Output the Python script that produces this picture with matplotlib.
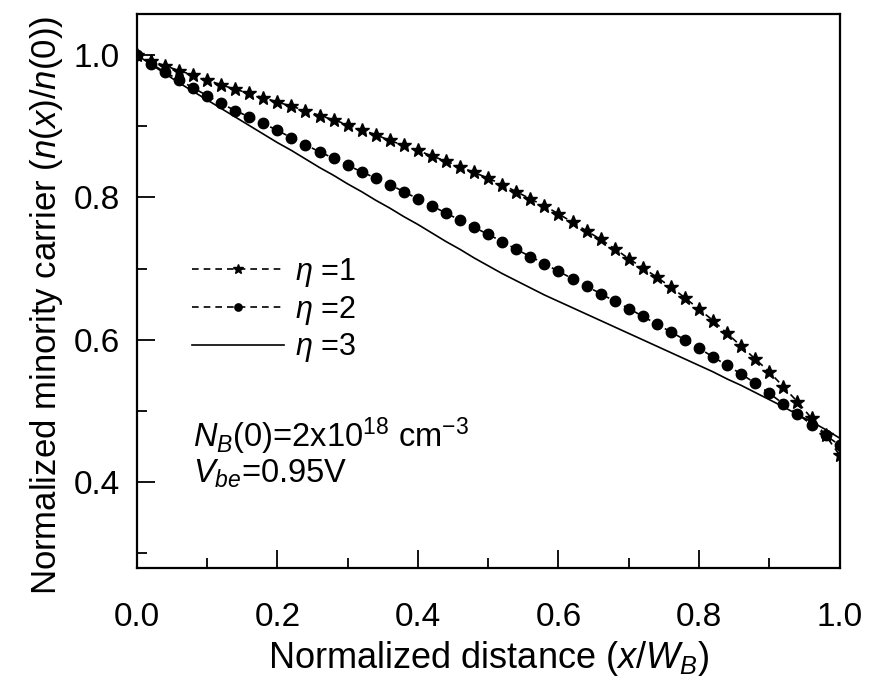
import numpy as np
import matplotlib
matplotlib.use("Agg")
import matplotlib.pyplot as plt

plt.rcParams['font.family'] = ['Liberation Sans', 'DejaVu Sans']
plt.rcParams['mathtext.fontset'] = 'custom'
plt.rcParams['mathtext.rm'] = 'Liberation Sans'
plt.rcParams['mathtext.it'] = 'Liberation Sans:italic'
plt.rcParams['mathtext.bf'] = 'Liberation Sans:bold'

# normalized distance x/W_B, sampled every 0.02
x = [round(0.02 * i, 2) for i in range(51)]

eta1 = [1.000, 0.992, 0.985, 0.978, 0.972, 0.965, 0.958, 0.952, 0.946, 0.940,
        0.934, 0.928, 0.922, 0.915, 0.909, 0.902, 0.895, 0.888, 0.880, 0.873,
        0.866, 0.858, 0.851, 0.843, 0.835, 0.827, 0.818, 0.808, 0.798, 0.788,
        0.777, 0.765, 0.753, 0.741, 0.728, 0.714, 0.701, 0.688, 0.674, 0.659,
        0.643, 0.627, 0.609, 0.591, 0.573, 0.555, 0.534, 0.513, 0.490, 0.466,
        0.438]
eta2 = [1.000, 0.988, 0.976, 0.965, 0.954, 0.943, 0.932, 0.922, 0.913, 0.904,
        0.894, 0.884, 0.874, 0.864, 0.855, 0.845, 0.836, 0.827, 0.818, 0.808,
        0.798, 0.788, 0.778, 0.768, 0.758, 0.748, 0.738, 0.727, 0.717, 0.707,
        0.696, 0.686, 0.675, 0.665, 0.654, 0.644, 0.633, 0.622, 0.611, 0.600,
        0.588, 0.576, 0.564, 0.552, 0.539, 0.525, 0.510, 0.496, 0.481, 0.466,
        0.452]
eta3 = [1.000, 0.987, 0.974, 0.961, 0.949, 0.937, 0.925, 0.913, 0.901, 0.889,
        0.877, 0.866, 0.854, 0.842, 0.831, 0.819, 0.808, 0.796, 0.785, 0.773,
        0.762, 0.750, 0.738, 0.727, 0.715, 0.704, 0.693, 0.683, 0.673, 0.663,
        0.654, 0.645, 0.636, 0.627, 0.618, 0.609, 0.600, 0.591, 0.582, 0.573,
        0.564, 0.555, 0.545, 0.536, 0.526, 0.516, 0.506, 0.495, 0.485, 0.474,
        0.462]

fig = plt.figure(figsize=(8.71, 6.84), dpi=100)
ax = fig.add_axes([0.157, 0.170, 0.807, 0.810])

ax.plot(x, eta1, color='black', linestyle=(0, (4, 3)), linewidth=1.2,
        marker='*', markersize=10, label=r'$\eta$ =1')
ax.plot(x, eta2, color='black', linestyle=(0, (4, 3)), linewidth=1.2,
        marker='o', markersize=7.5, label=r'$\eta$ =2')
ax.plot(x, eta3, color='black', linestyle='-', linewidth=1.2, label=r'$\eta$ =3')

ax.set_xlim(0, 1.0)
ax.set_ylim(0.28, 1.058)
ax.set_xticks([0.0, 0.2, 0.4, 0.6, 0.8, 1.0])
ax.set_xticks(np.arange(0.1, 1.0, 0.2), minor=True)
ax.set_yticks([0.4, 0.6, 0.8, 1.0])
ax.set_yticks([0.3, 0.5, 0.7, 0.9], minor=True)
ax.tick_params(which='major', direction='in', length=13, width=1.3, labelsize=24)
ax.tick_params(axis='x', which='major', pad=25)
ax.tick_params(axis='y', which='major', pad=12)
ax.tick_params(which='minor', direction='in', length=7, width=1.3)
for s in ax.spines.values():
    s.set_linewidth(1.6)

ax.set_xlabel(r'Normalized distance ($x$/$W_B$)', fontsize=26, labelpad=4)
ax.set_ylabel(r'Normalized minority carrier ($n$($x$)/$n$(0))', fontsize=25)
ax.yaxis.set_label_coords(-0.102, 0.473)

leg = ax.legend(loc='upper left', bbox_to_anchor=(0.04, 0.612), frameon=False,
                fontsize=22, handlelength=3.0, markerscale=0.7,
                labelspacing=0.15, handletextpad=0.35)

ax.text(0.08, 0.218, r'$N_B$(0)=2x10$^{18}$ cm$^{-3}$', transform=ax.transAxes,
        fontsize=23.5, va='baseline')
ax.text(0.08, 0.153, r'$V_{be}$=0.95V', transform=ax.transAxes,
        fontsize=23.5, va='baseline')

fig.savefig('out.png', dpi=100)
